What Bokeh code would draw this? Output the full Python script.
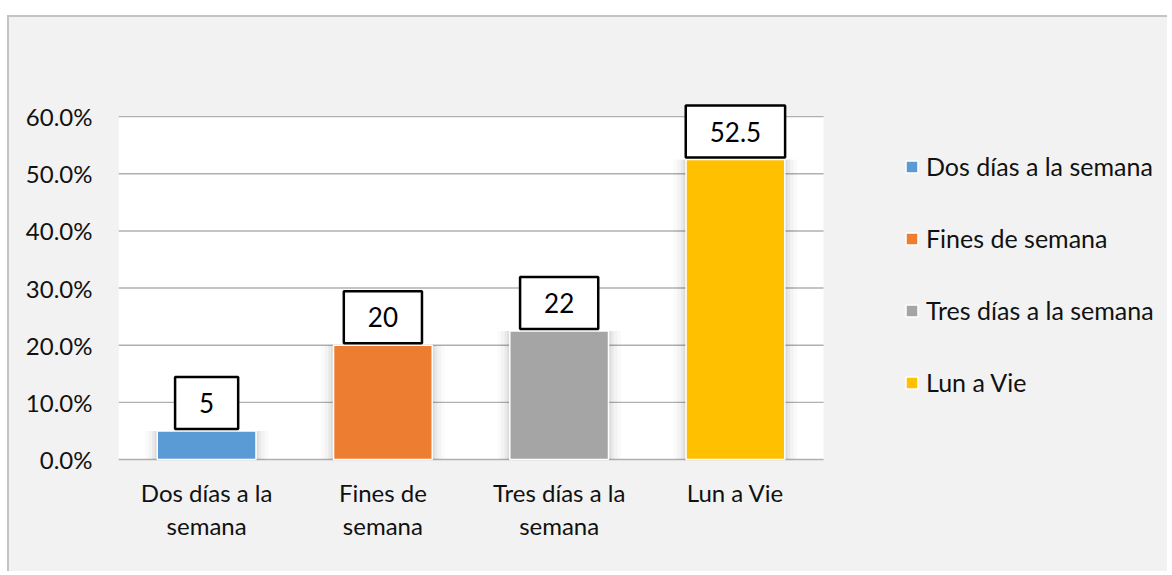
from bokeh.plotting import figure
from bokeh.models import (ColumnDataSource, Label, Legend, LegendItem,
                          NumeralTickFormatter, FixedTicker, Spacer)
from bokeh.layouts import column, row
from bokeh.core.properties import value
from bokeh.embed import file_html
from bokeh.resources import INLINE

# ---- data ----
categories = ["Dos días a la semana", "Fines de semana", "Tres días a la semana", "Lun a Vie"]
tick_line1 = ["Dos días a la", "Fines de", "Tres días a la", "Lun a Vie"]
tick_line2 = ["semana", "semana", "semana", ""]
shares = [0.05, 0.20, 0.225, 0.525]
data_labels = ["5", "20", "22", "52.5"]
colors = ["#5B9BD5", "#ED7D31", "#A5A5A5", "#FFC000"]
y_ticks = [0.0, 0.1, 0.2, 0.3, 0.4, 0.5, 0.6]

FONT = "Lato"
TXT = "#111111"
BG = "#F2F2F2"
n = len(categories)
xpos = list(range(n))

src = ColumnDataSource(dict(x=xpos, cat=categories, share=shares, color=colors,
                            label=data_labels, l1=tick_line1, l2=tick_line2,
                            base=[0.0] * n))

p = figure(x_range=(-0.5, 5.406), y_range=(-0.175, 0.7),
           width=1160, height=556, output_backend="svg", toolbar_location=None,
           x_axis_location=None,
           min_border_left=109, min_border_right=10, min_border_top=42, min_border_bottom=14)
p.styles = {"border-top": "2px solid #C4C4C4", "border-left": "2px solid #C4C4C4",
            "background-color": BG}

p.border_fill_color = None
p.background_fill_color = None
p.outline_line_color = None
p.xgrid.grid_line_color = None
p.ygrid.grid_line_color = None

# white plot area
p.quad(left=[-0.5], right=[n - 0.5], bottom=[y_ticks[0]], top=[y_ticks[-1]],
       fill_color="white", line_color=None)

# horizontal gridlines
p.segment(x0=[-0.5] * len(y_ticks), x1=[n - 0.5] * len(y_ticks), y0=y_ticks, y1=y_ticks,
          line_color="#B0B0B0", line_width=1.4)

# soft shadow around bars
for extra, alpha in [(0.14, 0.02), (0.10, 0.028), (0.06, 0.038), (0.03, 0.055)]:
    p.vbar(x="x", top="share", width=0.56 + extra, source=src,
           fill_color="black", fill_alpha=alpha, line_color=None)

bars = p.vbar(x="x", top="share", width=0.56, source=src,
              fill_color="color", line_color="white", line_width=1.5)

# y axis
p.yaxis.ticker = FixedTicker(ticks=y_ticks)
p.yaxis.formatter = NumeralTickFormatter(format="0.0%")
p.yaxis.axis_line_color = None
p.yaxis.major_tick_line_color = None
p.yaxis.minor_tick_line_color = None
p.yaxis.major_tick_out = 0
p.yaxis.major_tick_in = 0
p.yaxis.major_label_text_font = FONT
p.yaxis.major_label_text_font_size = "24px"
p.yaxis.major_label_text_color = TXT
p.yaxis.major_label_standoff = 26

# category labels (two lines)
p.text(x="x", y="base", text="l1", source=src, y_offset=33, text_align="center",
       text_baseline="alphabetic", text_font=value(FONT), text_font_size="24px",
       text_color=TXT)
p.text(x="x", y="base", text="l2", source=src, y_offset=66, text_align="center",
       text_baseline="alphabetic", text_font=value(FONT), text_font_size="24px",
       text_color=TXT)

# data labels
for xi, s, t in zip(xpos, shares, data_labels):
    p.add_layout(Label(x=xi, y=s, text=t, text_align="center", text_baseline="bottom",
                       y_offset=2, text_font=FONT, text_font_size="26px", text_color="black",
                       background_fill_color="white", border_line_color="black",
                       border_line_width=2.5, padding=(24, 16)))

# legend
items = [LegendItem(label=c, renderers=[bars], index=i) for i, c in enumerate(categories)]
legend = Legend(items=items, location=(786, 162), orientation="vertical",
                glyph_width=15, glyph_height=15, label_height=24, spacing=42,
                label_standoff=7, padding=0, margin=0,
                label_text_font=FONT, label_text_font_size="25px", label_text_color=TXT,
                border_line_color=None, background_fill_alpha=0)
p.add_layout(legend, "center")

layout = column(Spacer(height=15), row(Spacer(width=7), p))
open("out.html", "w").write(file_html(layout, INLINE))
